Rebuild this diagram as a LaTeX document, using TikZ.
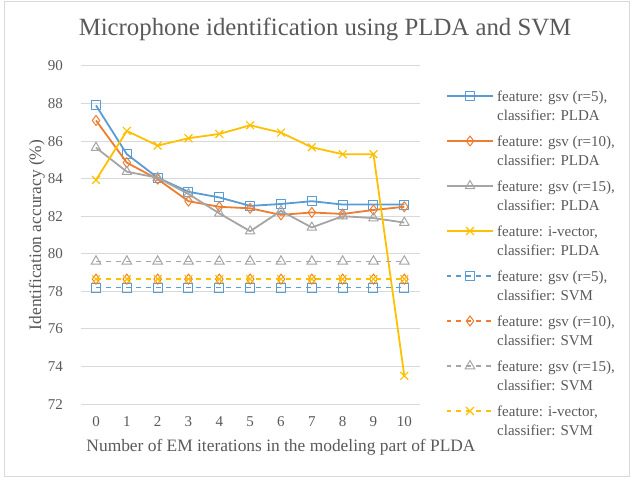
\documentclass[tikz,border=0pt]{standalone}
\usepackage{fontspec}
\setmainfont{Liberation Serif}
\usetikzlibrary{plotmarks}

\definecolor{gsvFive}{HTML}{5B9BD5}
\definecolor{gsvTen}{HTML}{ED7D31}
\definecolor{gsvFifteen}{HTML}{A5A5A5}
\definecolor{ivec}{HTML}{FFC000}
\definecolor{textGray}{HTML}{595959}
\definecolor{gridGray}{HTML}{D9D9D9}

\begin{document}
\begin{tikzpicture}
[x=1pt,y=-1pt,
  pldaLine/.style={line width=1.8pt,line join=round},%
  svmLine/.style={line width=1.5pt,dash pattern=on 5pt off 5pt},%
  gridLine/.style={draw=gridGray,line width=1pt},%
  tickLabel/.style={text=textGray,font=\fontsize{15}{17}\selectfont,inner sep=0pt},%
  axisLabel/.style={text=textGray,font=\fontsize{17.4}{20}\selectfont},%
  legendText/.style={text=textGray,font=\fontsize{15}{19}\selectfont,align=left,anchor=west,inner sep=0pt},%
  sqMark/.style={mark=square,mark size=4.5pt,mark options={solid,line width=1pt}},%
  dmMark/.style={mark=diamond,mark size=5pt,mark options={solid,line width=1pt}},%
  trMark/.style={mark=triangle,mark size=5.5pt,mark options={solid,line width=1pt}},%
  xMark/.style={mark=x,mark size=5.5pt,mark options={solid,line width=1.2pt}}]
\useasboundingbox (0,0) rectangle (631,478);
%% chart frame
\draw[gridGray,line width=1pt] (4.5,2) rectangle (629,476);
\node (title) at (325,29) [text=textGray,font=\fontsize{24.8}{28}\selectfont] {Microphone identification using PLDA and SVM};
%% grid and ticks
\foreach \v in {72,74,...,90}
{
  \draw[gridLine] (81,{66+(90-\v)*18.78}) -- (420,{66+(90-\v)*18.78});
  \node (ytick\v) at (63,{66+(90-\v)*18.78}) [tickLabel,anchor=east] {\v};
}
\foreach \i in {0,...,10}
{
  \node (xtick\i) at ({96+30.83*\i},422) [tickLabel] {\i};
}
\node (ylabel) at (37,235) [rotate=90,axisLabel] {Identification accuracy (\%)};
\node (xlabel) at (281,447) [axisLabel] {Number of EM iterations in the modeling part of PLDA};
%% series
\begin{scope}[shift={(96pt,-404pt)}]
\begin{scope}[x=30.83pt,y=18.78pt,shift={(0,-72)}]
\draw[pldaLine,gsvFive] plot[sqMark] coordinates {(0,87.9) (1,85.3) (2,84.05) (3,83.3) (4,83.0) (5,82.55) (6,82.65) (7,82.8) (8,82.62) (9,82.62) (10,82.62)};
\draw[pldaLine,gsvTen] plot[dmMark] coordinates {(0,87.1) (1,84.85) (2,83.97) (3,82.8) (4,82.5) (5,82.42) (6,82.07) (7,82.2) (8,82.12) (9,82.33) (10,82.5)};
\draw[pldaLine,gsvFifteen] plot[trMark] coordinates {(0,85.65) (1,84.37) (2,84.05) (3,83.18) (4,82.15) (5,81.2) (6,82.28) (7,81.4) (8,82.0) (9,81.9) (10,81.66)};
\draw[pldaLine,ivec] plot[xMark] coordinates {(0,83.93) (1,86.54) (2,85.76) (3,86.15) (4,86.38) (5,86.84) (6,86.45) (7,85.67) (8,85.3) (9,85.3) (10,73.5)};
\foreach \col/\mk/\val in {gsvFive/sqMark/78.2, gsvTen/dmMark/78.65, gsvFifteen/trMark/79.6, ivec/xMark/78.65}
{
  \draw[svmLine,\col] plot[\mk,samples at={0,...,10}] (\x,\val);
}
\end{scope}
\end{scope}
%% legend
\foreach \k/\col/\lst/\mk/\feat/\clf in {
  0/gsvFive/pldaLine/sqMark/{gsv (r=5)}/PLDA,
  1/gsvTen/pldaLine/dmMark/{gsv (r=10)}/PLDA,
  2/gsvFifteen/pldaLine/trMark/{gsv (r=15)}/PLDA,
  3/ivec/pldaLine/xMark/{i-vector}/PLDA,
  4/gsvFive/svmLine/sqMark/{gsv (r=5)}/SVM,
  5/gsvTen/svmLine/dmMark/{gsv (r=10)}/SVM,
  6/gsvFifteen/svmLine/trMark/{gsv (r=15)}/SVM,
  7/ivec/svmLine/xMark/{i-vector}/SVM}
{
  \coordinate (legA\k) at (447,{96+45*\k});
  \coordinate (legB\k) at (493,{96+45*\k});
  \draw[\lst,\col,dash phase=1pt] (legA\k) -- (legB\k);
  \draw[\lst,\col] plot[\mk,samples at={470}] (\x,{96+45*\k});
  \node (leg\k) at (497,{96+45*\k+9.5}) [legendText] {feature: \feat,\\classifier: \clf};
}
\end{tikzpicture}
\end{document}
